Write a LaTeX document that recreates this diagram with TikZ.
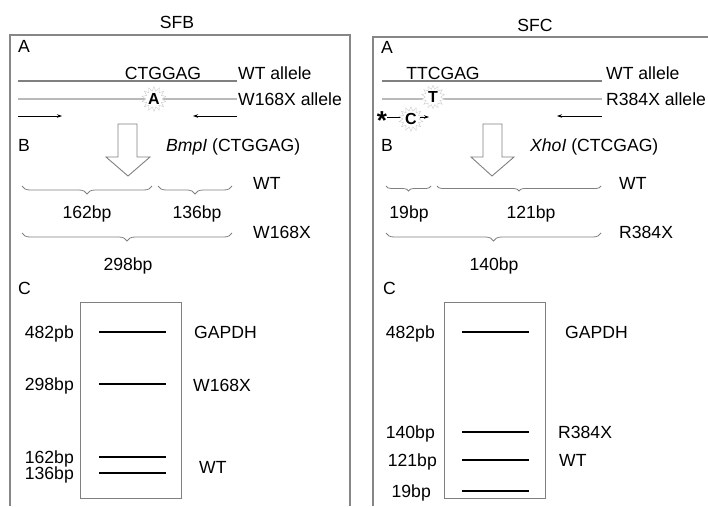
\documentclass[tikz,border=0pt]{standalone}
\usepackage{fontspec}
\setmainfont{Liberation Sans}
\usetikzlibrary{arrows.meta, positioning, calc, shapes.geometric, decorations.pathreplacing}

\tikzset{
    lbl/.style={font=\fontsize{17.6}{19}\selectfont, inner sep=0pt, text height=12pt, text depth=0pt},
    frame/.style={draw=gray!95, line width=1.3pt},
    gelbox/.style={draw=gray, line width=0.9pt},
    wtline/.style={draw=gray, line width=1.6pt},
    mutline/.style={draw=gray!55, line width=1.3pt},
    primer/.style={-{Stealth[length=5pt,width=3.5pt]}, line width=0.7pt},
    fragbrace/.style={decorate, decoration={brace, mirror, amplitude=#1}, draw=gray, line width=0.8pt},
    fragbrace/.default=8pt,
    bigarrow/.style={draw=gray, line width=0.9pt, fill=white},
    band/.style={line width=2.2pt},
    burst/.style={star, star points=14, star point ratio=1.5, minimum size=21pt, inner sep=0pt,
        draw=gray!40, fill=white, font=\fontsize{16}{18}\selectfont\bfseries}
}

\begin{document}
\begin{tikzpicture}[x=1pt, y=-1pt]
            \useasboundingbox (0,0) rectangle (708,506);
            \draw[frame] (10,506) -- (10,35) -- (350,35) -- (350,506);
            \draw[frame] (373,506) -- (373,37) -- (708,37);
            \node[lbl] (titleB) at (177,22) {SFB};
            \node[lbl] (titleC) at (535,25) {SFC};

            % SFB
            \node[lbl, anchor=west] (partAB) at (18,46) {A};
            \draw[wtline] (18,81) coordinate (wtB0) -- (237,81) coordinate (wtB1);
            \node[lbl] (siteB) at (163,73) {CTGGAG};
            \node[lbl, anchor=west] (wtalleleB) at (238,73) {WT allele};
            \draw[mutline] (18,99) coordinate (mutB0) -- (237,99) coordinate (mutB1);
            \node[burst] (mutA) at (154,99) {A};
            \node[lbl, anchor=west] (mutalleleB) at (238,99) {W168X allele};
            \coordinate (fwdB0) at (18,116);
            \coordinate (fwdB1) at (62,116);
            \coordinate (revB0) at (237,116);
            \coordinate (revB1) at (193,116);
            \draw[primer] (fwdB0) -- (fwdB1);
            \draw[primer] (revB0) -- (revB1);
            \node[lbl, anchor=west] (partBB) at (18,145) {B};
            \draw[bigarrow] (118,124) -- (137,124) -- (137,157) -- (150,157) -- (128,176) -- (106,157) -- (118,157) -- cycle;
            \node[lbl, anchor=west] (enzB) at (166,145) {\textit{BmpI} (CTGGAG)};
            \draw[fragbrace] (22,186) -- (152,186);
            \draw[fragbrace] (158,186) -- (232,186);
            \node[lbl, anchor=west] (wtB) at (253,183) {WT};
            \node[lbl] (fragB1) at (87,212) {162bp};
            \node[lbl] (fragB2) at (197,212) {136bp};
            \draw[fragbrace] (22,233) -- (232,233);
            \node[lbl, anchor=west] (mutB) at (253,232) {W168X};
            \node[lbl] (fragB3) at (128,264) {298bp};
            \node[lbl, anchor=west] (partCB) at (18,288) {C};
            \draw[gelbox] (80,302) rectangle (181,498);
            \foreach \y/\t in {332/482pb, 384/298bp, 457/162bp, 473/136bp} {
                \draw[band] (99,\y) -- (166,\y);
                \node[lbl, anchor=east] (ladB\y) at (74,\y) {\t};
            }
            \node[lbl, anchor=west] (gapdhB) at (194,332) {GAPDH};
            \node[lbl, anchor=west] (bandmutB) at (193,385) {W168X};
            \node[lbl, anchor=west] (bandwtB) at (199,467) {WT};

            % SFC
            \node[lbl, anchor=west] (partAC) at (381,47) {A};
            \draw[wtline] (382,81) coordinate (wtC0) -- (602,81) coordinate (wtC1);
            \node[lbl] (siteC) at (443,73) {TTCGAG};
            \node[lbl, anchor=west] (wtalleleC) at (606,73) {WT allele};
            \draw[mutline] (382,99) coordinate (mutC0) -- (602,99) coordinate (mutC1);
            \node[burst] (mutT) at (433,97) {T};
            \node[lbl, anchor=west] (mutalleleC) at (606,99) {R384X allele};
            \node[font=\fontsize{26}{26}\selectfont\bfseries, inner sep=0pt] (tag) at (382,121) {*};
            \coordinate (fwdC1) at (429,117);
            \draw[line width=0.7pt] (tag.east |- fwdC1) -- (411,117);
            \node[burst] (mutC) at (411,119) {C};
            \draw[primer] (mutC.east |- fwdC1) -- (fwdC1);
            \coordinate (revC0) at (602,116);
            \coordinate (revC1) at (557,116);
            \draw[primer] (revC0) -- (revC1);
            \node[lbl, anchor=west] (partBC) at (381,145) {B};
            \draw[bigarrow] (483,124) -- (502,124) -- (502,157) -- (514,157) -- (492,176) -- (471,157) -- (483,157) -- cycle;
            \node[lbl, anchor=west] (enzC) at (530,145) {\textit{XhoI} (CTCGAG)};
            \draw[fragbrace=5pt] (386,186) -- (431,186);
            \draw[fragbrace=5pt] (437,186) -- (601,186);
            \node[lbl, anchor=west] (wtC) at (619,183) {WT};
            \node[lbl] (fragC1) at (409,212) {19bp};
            \node[lbl] (fragC2) at (531,212) {121bp};
            \draw[fragbrace] (386,233) -- (601,233);
            \node[lbl, anchor=west] (mutC) at (619,232) {R384X};
            \node[lbl] (fragC3) at (494,264) {140bp};
            \node[lbl, anchor=west] (partCC) at (383,288) {C};
            \draw[gelbox] (444,302) rectangle (545,498);
            \foreach \y/\t/\e in {332/482pb/435, 432/140bp/435, 460/121bp/437, 491/19bp/431} {
                \draw[band] (462,\y) -- (529,\y);
                \node[lbl, anchor=east] (ladC\y) at (\e,\y) {\t};
            }
            \node[lbl, anchor=west] (gapdhC) at (565,332) {GAPDH};
            \node[lbl, anchor=west] (bandmutC) at (558,432) {R384X};
            \node[lbl, anchor=west] (bandwtC) at (559,460) {WT};
\end{tikzpicture}
\end{document}
